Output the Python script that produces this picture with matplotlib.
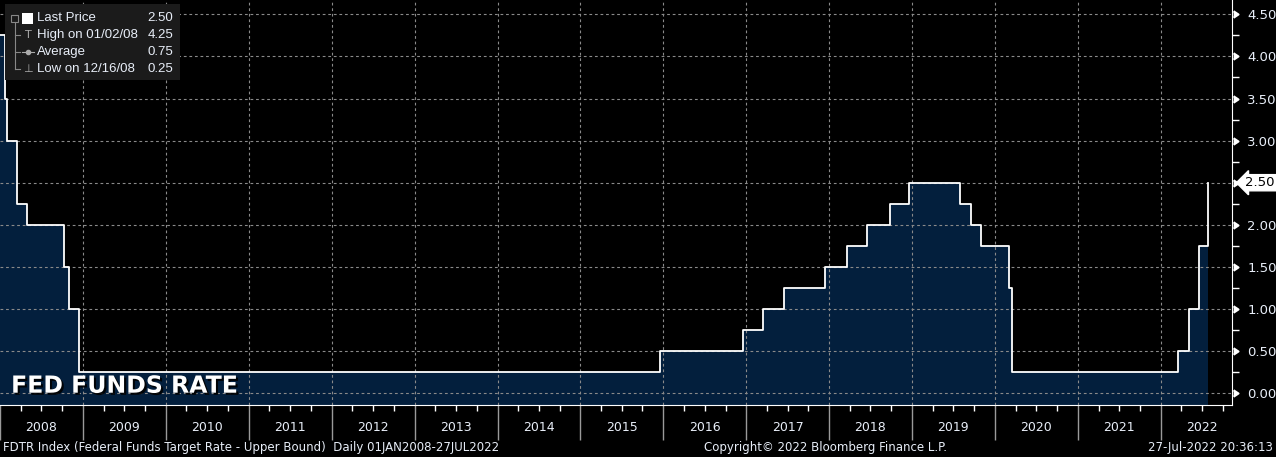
import pandas as pd
import matplotlib.pyplot as plt
import matplotlib.dates as mdates
import matplotlib.transforms as mtrans
import matplotlib.patheffects as pe
import numpy as np

# fed funds target rate (upper bound), dates of changes
change_dates = ['2008-01-01', '2008-01-22', '2008-01-30', '2008-03-18', '2008-04-30',
                '2008-10-08', '2008-10-29', '2008-12-16', '2015-12-17', '2016-12-15',
                '2017-03-16', '2017-06-15', '2017-12-14', '2018-03-22', '2018-06-14',
                '2018-09-27', '2018-12-20', '2019-08-01', '2019-09-19', '2019-10-31',
                '2020-03-04', '2020-03-16', '2022-03-17', '2022-05-05', '2022-06-16',
                '2022-07-27']
rates = [4.25, 3.50, 3.00, 2.25, 2.00, 1.50, 1.00, 0.25, 0.50, 0.75,
         1.00, 1.25, 1.50, 1.75, 2.00, 2.25, 2.50, 2.25, 2.00, 1.75,
         1.25, 0.25, 0.50, 1.00, 1.75, 2.50]
years = list(range(2008, 2023))
y_ticks = [0.0, 0.5, 1.0, 1.5, 2.0, 2.5, 3.0, 3.5, 4.0, 4.5]
last_price = 2.50

legend_rows = [('Last Price', '2.50'), ('High on 01/02/08', '4.25'),
               ('Average', '0.75'), ('Low on 12/16/08', '0.25')]

d = pd.to_datetime(change_dates)
y_bottom = -0.14

bg = '#000000'
navy = '#031f3d'
txt = '#e8eef8'

fig = plt.figure(figsize=(12.76, 4.57), dpi=100, facecolor=bg)
ax = fig.add_axes([0, 1 - 405 / 457, 1232 / 1276, 405 / 457])
ax.set_facecolor(bg)

ax.fill_between(d, rates, y_bottom, step='post', color=navy, lw=0, zorder=1)
ax.step(d, rates, where='post', color='white', lw=1.3, zorder=4)

ax.set_ylim(y_bottom, 4.67)
ax.set_xlim(pd.Timestamp('2008-01-01'), pd.Timestamp('2022-11-10'))

# grid
for v in y_ticks:
    ax.axhline(v, color='#8a8a8a', lw=0.8, ls=(0, (2.5, 2.5)), zorder=2)
for yr in years[1:]:
    ax.axvline(pd.Timestamp(f'{yr}-01-01'), color='#8a8a8a', lw=0.8, ls=(0, (2.5, 2.5)), zorder=2)

# right axis
ax.yaxis.tick_right()
ax.set_yticks(y_ticks)
ax.set_yticklabels([f'{v:.2f}' for v in y_ticks])
ax.set_yticks(np.arange(0.25, 4.6, 0.5), minor=True)
ax.tick_params(axis='y', which='major', length=0, pad=11, labelsize=9.5, labelcolor=txt)
ax.tick_params(axis='y', which='minor', length=5, width=1, color='white', direction='out')
tr = mtrans.blended_transform_factory(ax.transAxes, ax.transData)
ax.scatter([1.0045] * len(y_ticks), y_ticks, marker=5, s=22, color='white',
           transform=tr, clip_on=False, zorder=5)

# bottom axis: year separators and quarter ticks
ax.xaxis.set_major_locator(mdates.YearLocator())
ax.xaxis.set_minor_locator(mdates.MonthLocator(bymonth=[4, 7, 10]))
ax.tick_params(axis='x', which='major', length=25, width=1, color='#9a9a9a', labelbottom=False)
ax.tick_params(axis='x', which='minor', length=4, width=1, color='white')
trx = mtrans.blended_transform_factory(ax.transData, ax.transAxes)
for yr in years:
    ax.text(pd.Timestamp(f'{yr}-07-01'), -0.055, str(yr), transform=trx, ha='center',
            va='center', color=txt, fontsize=9)

for s in ['top', 'left']:
    ax.spines[s].set_visible(False)
ax.spines['right'].set_color('white')
ax.spines['bottom'].set_color('white')

# last price marker
ax.annotate(f'{last_price:.2f}', xy=(1.0, last_price), xycoords=tr,
            xytext=(1.0105, last_price), textcoords=tr, va='center', ha='left',
            fontsize=9.5, color='black', annotation_clip=False,
            bbox=dict(boxstyle='larrow,pad=0.12', fc='white', ec='white'), zorder=6)

# title on chart
ax.text(0.009, 0.018, 'FED FUNDS RATE', transform=ax.transAxes, color='white',
        fontsize=17, fontweight='bold', ha='left', va='bottom', zorder=6,
        path_effects=[pe.withSimplePatchShadow(offset=(1.5, -1.5), shadow_rgbFace='black', alpha=0.9)])

# legend box
W, H = 1276, 457
box = plt.Rectangle((5 / W, 1 - 80 / H), 175 / W, 76 / H, transform=fig.transFigure,
                    facecolor='#1b1b1b', edgecolor='none', zorder=10)
fig.patches.append(box)
row_y = [18, 35, 52, 69]
for (lab, val), yy in zip(legend_rows, row_y):
    fig.text(37 / W, 1 - yy / H, lab, color=txt, fontsize=9.5, va='center', ha='left',
             family='Liberation Sans', zorder=11)
    fig.text(173 / W, 1 - yy / H, val, color=txt, fontsize=9.5, va='center', ha='right',
             family='Liberation Sans', zorder=11)
# legend icons
fig.patches.append(plt.Rectangle((22 / W, 1 - 24 / H), 11 / W, 11 / H, transform=fig.transFigure,
                                 facecolor='white', edgecolor='none', zorder=11))
fig.patches.append(plt.Rectangle((11 / W, 1 - 22 / H), 7 / W, 7 / H, transform=fig.transFigure,
                                 facecolor='none', edgecolor='#888888', lw=0.8, zorder=11))
fig.add_artist(plt.Line2D([14.5 / W, 14.5 / W], [1 - 22 / H, 1 - 69 / H], transform=fig.transFigure,
                          color='#888888', lw=0.8, zorder=11))
for yy in row_y[1:]:
    fig.add_artist(plt.Line2D([14.5 / W, 20 / W], [1 - yy / H, 1 - yy / H], transform=fig.transFigure,
                              color='#888888', lw=0.8, zorder=11))
fig.text(28 / W, 1 - 35 / H, 'T', color='#aaaaaa', fontsize=8, ha='center', va='center', zorder=11)
fig.add_artist(plt.Line2D([22 / W, 34 / W], [1 - 52 / H, 1 - 52 / H], transform=fig.transFigure,
                          color='#aaaaaa', lw=0.8, zorder=11))
fig.add_artist(plt.Line2D([28 / W], [1 - 52 / H], transform=fig.transFigure,
                          color='#aaaaaa', marker='o', markersize=3, zorder=11))
fig.text(28 / W, 1 - 69 / H, '\u22a5', color='#aaaaaa', fontsize=8, ha='center', va='center', zorder=11)

# footer
fig.text(3 / W, 1 - 448 / H, 'FDTR Index (Federal Funds Target Rate - Upper Bound)  Daily 01JAN2008-27JUL2022',
         color=txt, fontsize=8.5, va='center', ha='left')
fig.text(826 / W, 1 - 448 / H, 'Copyright\u00a9 2022 Bloomberg Finance L.P.',
         color=txt, fontsize=8.5, va='center', ha='center')
fig.text(1273 / W, 1 - 448 / H, '27-Jul-2022 20:36:13',
         color=txt, fontsize=8.5, va='center', ha='right')

fig.savefig('out.png', dpi=100, facecolor=bg)
